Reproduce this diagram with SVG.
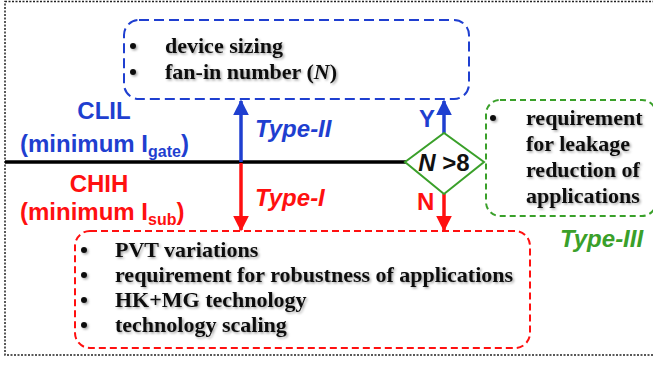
<svg xmlns="http://www.w3.org/2000/svg" width="653" height="365" viewBox="0 0 653 365">
  <defs>
    <filter id="shadow" x="-10%" y="-30%" width="130%" height="170%">
      <feDropShadow dx="1.5" dy="1.5" stdDeviation="0.8" flood-color="#000" flood-opacity="0.35"/>
    </filter>
    <marker id="headBlue" viewBox="0 0 10 10" refX="9" refY="5" markerWidth="4.6" markerHeight="4.6" markerUnits="strokeWidth" orient="auto">
      <path d="M0,0 L10,5 L0,10 z" fill="#1f3fd0"/>
    </marker>
    <marker id="headRed" viewBox="0 0 10 10" refX="9" refY="5" markerWidth="4.6" markerHeight="4.6" markerUnits="strokeWidth" orient="auto">
      <path d="M0,0 L10,5 L0,10 z" fill="#ff1010"/>
    </marker>
  </defs>
  <style>
    .serif { font-family: "Liberation Serif", "Times New Roman", serif; font-weight: bold; fill: #111; font-size: 22px; }
    .sans { font-family: "Liberation Sans", Arial, sans-serif; font-weight: bold; font-size: 24px; }
    .ital { font-style: italic; }
    .blue { fill: #1f3fd0; }
    .red { fill: #ff1010; }
    .green { fill: #3aa02a; }
    .frame { fill: none; stroke: #222; stroke-width: 1.5; stroke-dasharray: 2 1.5; }
  </style>

  <rect width="653" height="365" fill="#fff"/>
  <!-- outer dotted frame (right edge runs past the canvas) -->
  <rect class="frame" x="5" y="1.5" width="660" height="353.5"/>

  <!-- connectors -->
  <g id="connectors">
    <line x1="5" y1="162" x2="406" y2="162" stroke="#000" stroke-width="3.5"/>
    <line x1="241" y1="162" x2="241" y2="101" stroke="#1f3fd0" stroke-width="3.5" marker-end="url(#headBlue)"/>
    <line x1="241" y1="163" x2="241" y2="230" stroke="#ff1010" stroke-width="3.5" marker-end="url(#headRed)"/>
    <line x1="444" y1="133" x2="444" y2="101" stroke="#1f3fd0" stroke-width="3.5" marker-end="url(#headBlue)"/>
    <line x1="444" y1="194" x2="444" y2="230" stroke="#ff1010" stroke-width="3.5" marker-end="url(#headRed)"/>
  </g>

  <!-- Type-II box -->
  <g id="box-type2">
    <rect x="124" y="20" width="345" height="79" rx="15" fill="none" stroke="#1f3fd0" stroke-width="2" stroke-dasharray="10 5"/>
    <g filter="url(#shadow)">
      <circle cx="133" cy="46" r="3" fill="#111"/>
      <circle cx="133" cy="72" r="3" fill="#111"/>
      <text class="serif" x="165" y="53">device sizing</text>
      <text class="serif" x="165" y="79">fan-in number (<tspan class="ital">N</tspan>)</text>
    </g>
  </g>

  <!-- decision diamond -->
  <g id="decision">
    <polygon points="405,162 444,133 484,162 444,194" fill="#fff" stroke="#3aa02a" stroke-width="2"/>
    <text class="sans" x="444" y="171" font-size="22" text-anchor="middle" fill="#111"><tspan class="ital">N</tspan> &gt;8</text>
  </g>

  <!-- Type-III box -->
  <g id="box-type3">
    <rect x="486" y="100" width="170" height="116" rx="14" fill="none" stroke="#3aa02a" stroke-width="2" stroke-dasharray="6 4"/>
    <g filter="url(#shadow)">
      <circle cx="493" cy="118" r="3" fill="#111"/>
      <text class="serif" x="526" y="125" font-size="20">requirement</text>
      <text class="serif" x="526" y="151" font-size="20">for leakage</text>
      <text class="serif" x="526" y="177" font-size="20">reduction of</text>
      <text class="serif" x="526" y="203" font-size="20">applications</text>
    </g>
  </g>

  <!-- Type-I box -->
  <g id="box-type1">
    <rect x="75" y="231" width="455" height="117" rx="15" fill="none" stroke="#ff1010" stroke-width="2" stroke-dasharray="7 4"/>
    <g filter="url(#shadow)">
      <circle cx="84" cy="250" r="3" fill="#111"/>
      <circle cx="84" cy="275" r="3" fill="#111"/>
      <circle cx="84" cy="300" r="3" fill="#111"/>
      <circle cx="84" cy="325" r="3" fill="#111"/>
      <text class="serif" x="115" y="257">PVT variations</text>
      <text class="serif" x="115" y="282">requirement for robustness of applications</text>
      <text class="serif" x="115" y="307">HK+MG technology</text>
      <text class="serif" x="115" y="332">technology scaling</text>
    </g>
  </g>

  <!-- region labels -->
  <g id="label-clil">
    <text class="sans blue" x="104" y="119" text-anchor="middle">CLIL</text>
    <text class="sans blue" x="20" y="152">(minimum I<tspan font-size="16" dy="5">gate</tspan><tspan dy="-5">)</tspan></text>
  </g>
  <g id="label-chih">
    <text class="sans red" x="99" y="192" text-anchor="middle">CHIH</text>
    <text class="sans red" x="20" y="220">(minimum I<tspan font-size="16" dy="5">sub</tspan><tspan dy="-5">)</tspan></text>
  </g>
  <g id="type-labels">
    <text class="sans ital blue" x="255" y="137" font-size="23">Type-II</text>
    <text class="sans ital red" x="255" y="206" font-size="23">Type-I</text>
    <text class="sans ital green" x="560" y="247">Type-III</text>
    <text class="sans blue" x="419" y="127" font-size="22">Y</text>
    <text class="sans red" x="417" y="210" font-size="22">N</text>
  </g>
</svg>
